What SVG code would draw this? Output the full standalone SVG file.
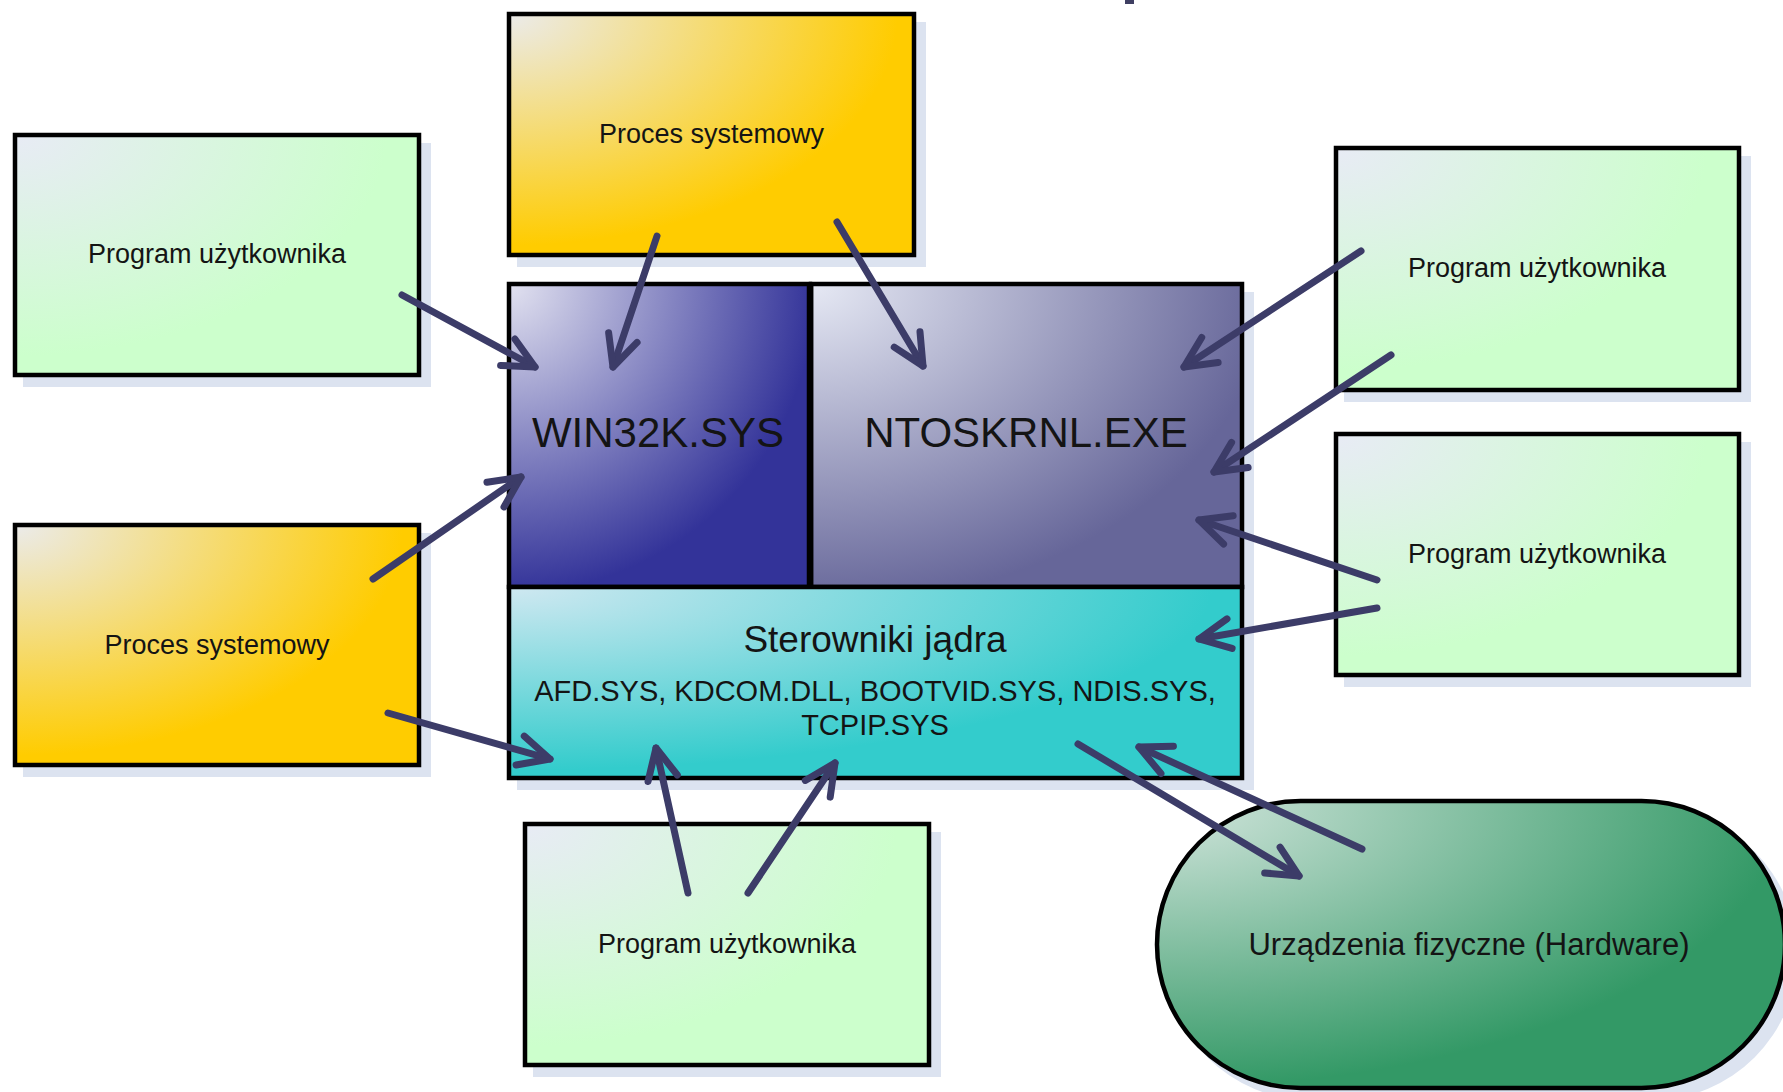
<svg xmlns="http://www.w3.org/2000/svg" width="1783" height="1092" viewBox="0 0 1783 1092">
  <style>
    .box { stroke: #000; stroke-width: 4.5; }
    .shadow { fill: #dce3f0; }
    .lbl { font-family: "Liberation Sans", Arial, sans-serif; fill: #141414; text-anchor: middle; }
    .s27 { font-size: 27px; }
    .big { font-size: 42px; }
    .conn line { stroke: #3c3c68; stroke-width: 7; stroke-linecap: round; marker-end: url(#head); }
  </style>
  <defs>
    <radialGradient id="gGreen" cx="0" cy="0" r="1.15" fx="0" fy="0">
      <stop offset="0" stop-color="#e8ebf5"/>
      <stop offset="0.8" stop-color="#ccffcc"/>
    </radialGradient>
    <radialGradient id="gYellow" cx="0" cy="0" r="1.2" fx="0" fy="0">
      <stop offset="0" stop-color="#ebebeb"/>
      <stop offset="0.8" stop-color="#ffcc00"/>
    </radialGradient>
    <radialGradient id="gWin" cx="0" cy="0" r="1.2" fx="0" fy="0">
      <stop offset="0" stop-color="#e2e2f0"/>
      <stop offset="0.85" stop-color="#333399"/>
    </radialGradient>
    <radialGradient id="gNt" cx="0" cy="0" r="1.25" fx="0" fy="0">
      <stop offset="0" stop-color="#e6e9f4"/>
      <stop offset="0.85" stop-color="#666699"/>
    </radialGradient>
    <radialGradient id="gDrv" cx="0" cy="0" r="1.2" fx="0" fy="0">
      <stop offset="0" stop-color="#cfe8f1"/>
      <stop offset="0.8" stop-color="#33cccc"/>
    </radialGradient>
    <radialGradient id="gHw" cx="0" cy="0" r="1.25" fx="0" fy="0">
      <stop offset="0" stop-color="#d4e6de"/>
      <stop offset="0.8" stop-color="#339966"/>
    </radialGradient>
    <marker id="head" markerUnits="userSpaceOnUse" orient="auto" refX="0" refY="0"
            viewBox="-40 -20 45 40" markerWidth="45" markerHeight="40" overflow="visible">
      <path d="M-31,-15 L0,0 L-31,15" fill="none" stroke="#3c3c68" stroke-width="7"
            stroke-linecap="round" stroke-linejoin="round"/>
    </marker>
  </defs>

  <rect width="1783" height="1092" fill="#fff"/>

  <!-- descender of the slide title above the visible area -->
  <rect x="1125" y="0" width="9" height="4" fill="#3f3f62"/>

  <!-- shadows -->
  <g id="shadows">
    <rect class="shadow" x="517" y="22" width="409" height="245"/>
    <rect class="shadow" x="23" y="143" width="408" height="244"/>
    <rect class="shadow" x="23" y="533" width="408" height="244"/>
    <rect class="shadow" x="517" y="292" width="737" height="498"/>
    <rect class="shadow" x="1344" y="156" width="407" height="246"/>
    <rect class="shadow" x="1344" y="442" width="407" height="245"/>
    <rect class="shadow" x="533" y="832" width="408" height="245"/>
    <rect class="shadow" x="1165" y="809" width="632" height="291" rx="145" ry="145"/>
  </g>

  <g id="proc-top">
    <rect class="box" x="509" y="14" width="405" height="241" fill="url(#gYellow)"/>
    <text class="lbl s27" x="711.5" y="143">Proces systemowy</text>
  </g>

  <g id="user-left-top">
    <rect class="box" x="15" y="135" width="404" height="240" fill="url(#gGreen)"/>
    <text class="lbl s27" x="217" y="263">Program użytkownika</text>
  </g>

  <g id="proc-left">
    <rect class="box" x="15" y="525" width="404" height="240" fill="url(#gYellow)"/>
    <text class="lbl s27" x="217" y="654">Proces systemowy</text>
  </g>

  <g id="win32k">
    <rect class="box" x="509" y="284" width="301" height="303" fill="url(#gWin)"/>
    <text class="lbl big" x="658" y="447">WIN32K.SYS</text>
  </g>

  <g id="ntoskrnl">
    <rect class="box" x="811" y="284" width="431" height="303" fill="url(#gNt)"/>
    <text class="lbl big" x="1026" y="447">NTOSKRNL.EXE</text>
  </g>

  <!-- heavier rule between the two upper kernel parts -->
  <line x1="810" y1="284" x2="810" y2="587" stroke="#000" stroke-width="6.5"/>

  <g id="drivers">
    <rect class="box" x="509" y="587" width="733" height="191" fill="url(#gDrv)"/>
    <text class="lbl" x="875" y="652" font-size="37">Sterowniki jądra</text>
    <text class="lbl" x="875" y="701" font-size="29">AFD.SYS, KDCOM.DLL, BOOTVID.SYS, NDIS.SYS,</text>
    <text class="lbl" x="875" y="735" font-size="29">TCPIP.SYS</text>
  </g>

  <g id="user-right-top">
    <rect class="box" x="1336" y="148" width="403" height="242" fill="url(#gGreen)"/>
    <text class="lbl s27" x="1537" y="277">Program użytkownika</text>
  </g>

  <g id="user-right-mid">
    <rect class="box" x="1336" y="434" width="403" height="241" fill="url(#gGreen)"/>
    <text class="lbl s27" x="1537" y="563">Program użytkownika</text>
  </g>

  <g id="user-bottom">
    <rect class="box" x="525" y="824" width="404" height="241" fill="url(#gGreen)"/>
    <text class="lbl s27" x="727" y="953">Program użytkownika</text>
  </g>

  <g id="hardware">
    <rect class="box" x="1157" y="801" width="628" height="287" rx="143.5" ry="143.5" fill="url(#gHw)"/>
    <text class="lbl" x="1469" y="955" font-size="31">Urządzenia fizyczne (Hardware)</text>
  </g>

  <g id="connectors" class="conn">
    <line x1="402" y1="295" x2="535" y2="367"/>
    <line x1="657" y1="236" x2="613" y2="367"/>
    <line x1="837" y1="222" x2="923" y2="366"/>
    <line x1="1361" y1="251" x2="1184" y2="367"/>
    <line x1="1391" y1="355" x2="1214" y2="472"/>
    <line x1="1377" y1="580" x2="1199" y2="520"/>
    <line x1="1377" y1="608" x2="1199" y2="639"/>
    <line x1="373" y1="579" x2="521" y2="477"/>
    <line x1="388" y1="713" x2="550" y2="759"/>
    <line x1="688" y1="893" x2="656" y2="748"/>
    <line x1="748" y1="893" x2="835" y2="763"/>
    <line x1="1078" y1="744" x2="1299" y2="876"/>
    <line x1="1362" y1="849" x2="1139" y2="747"/>
  </g>
</svg>
